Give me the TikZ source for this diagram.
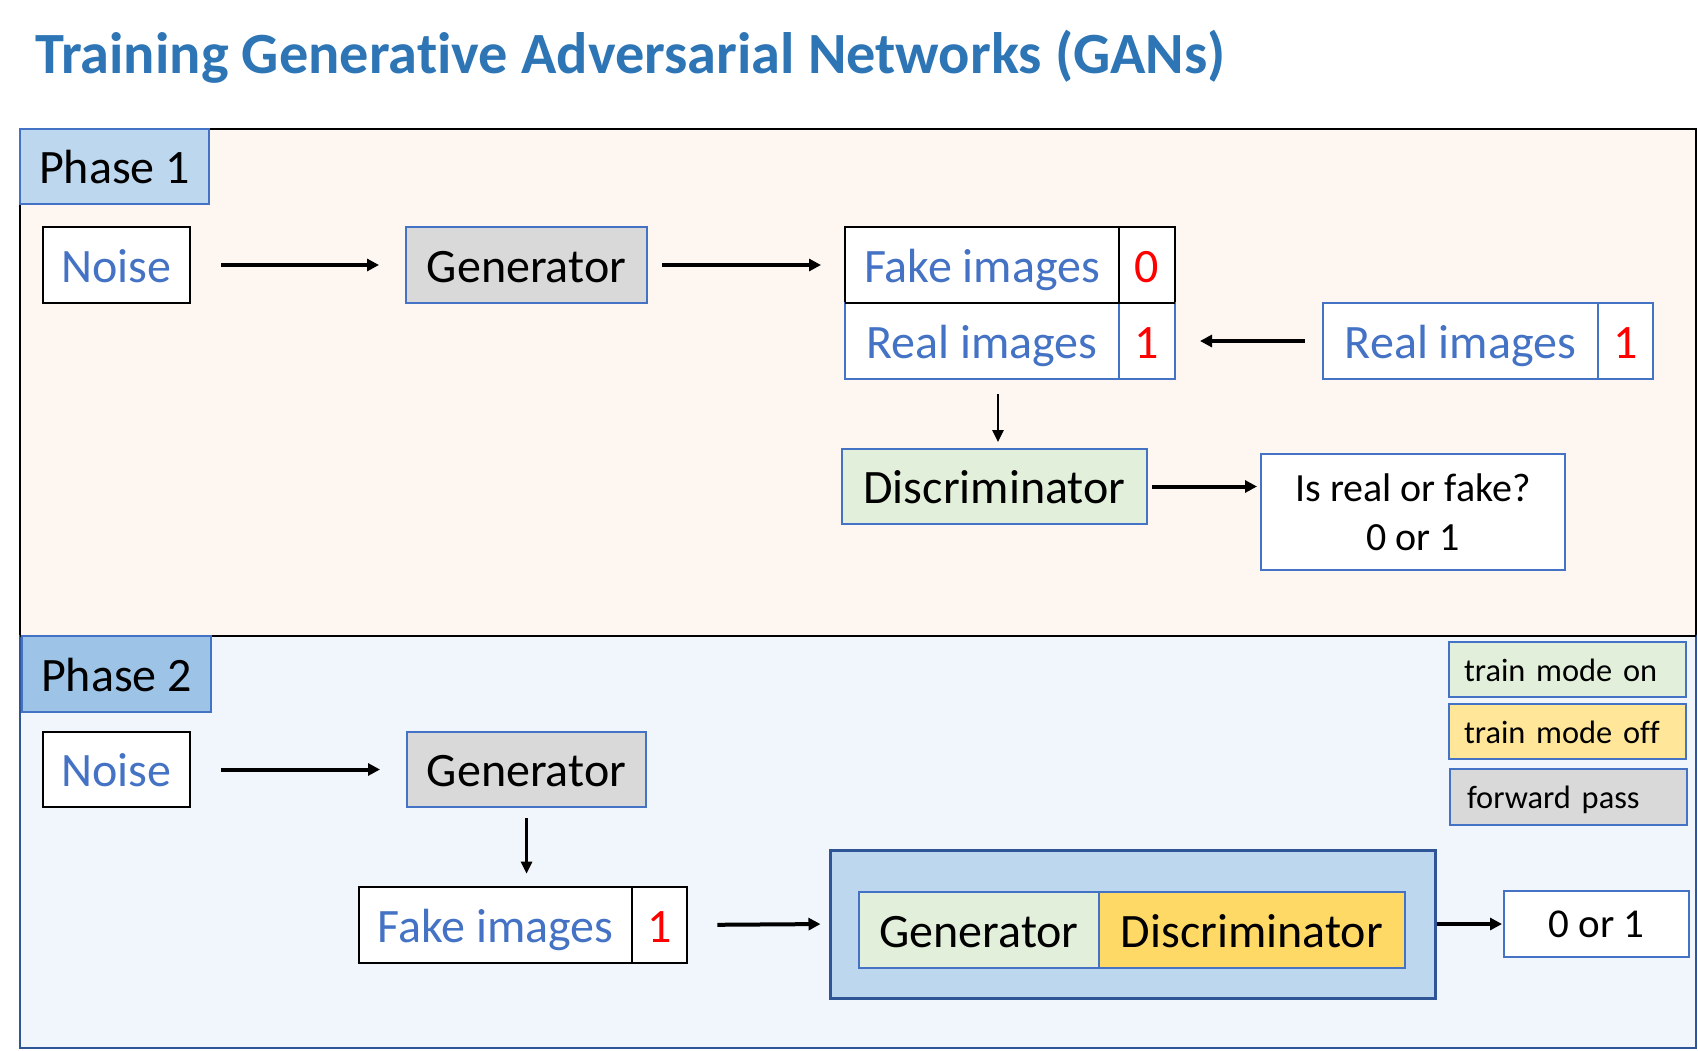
\documentclass[tikz,border=0pt]{standalone}
\usepackage{fontspec}
\setmainfont{Carlito}[Ligatures=NoCommon]
\usetikzlibrary{arrows.meta}
\definecolor{titleblue}{HTML}{2E75B6}
\definecolor{tblue}{HTML}{4472C4}
\definecolor{bdark}{HTML}{2F5597}
\definecolor{peach}{HTML}{FEF6F0}
\definecolor{pale}{HTML}{F1F5FC}
\definecolor{lblue}{HTML}{BDD7EE}
\definecolor{mblue}{HTML}{9DC3E6}
\definecolor{ggray}{HTML}{D9D9D9}
\definecolor{ggreen}{HTML}{E2EFDA}
\definecolor{gyellow}{HTML}{FFE699}
\definecolor{gorange}{HTML}{FFD966}
\definecolor{red}{HTML}{FF0000}
\tikzset{
  bx/.style={draw, rectangle, inner sep=0pt, line width=1pt, fill=white,
    font=\fontsize{24pt}{29pt}\selectfont, text height=17.2pt, text depth=0pt},
  blk/.style={bx, draw=black},
  blu/.style={bx, draw=tblue},
  leg/.style={draw=tblue, rectangle, line width=1pt, inner ysep=0pt, inner xsep=7.5pt,
    minimum height=27.5pt, text width=103.5pt, align=left,
    font=\fontsize{16.2pt}{20pt}\selectfont, text height=11.5pt, text depth=0pt},
  arr/.style={-{Triangle[length=6pt,width=6pt]}, line width=2pt},
  arrthin/.style={-{Triangle[length=6pt,width=5.5pt]}, line width=1.3pt},
}
\begin{document}
\begin{tikzpicture}[x=0.5pt,y=-0.5pt]
\useasboundingbox[fill=white] (0,0) rectangle (1698,1050);
% title
\node[anchor=base west, inner sep=0pt, text=titleblue,
  font=\fontsize{29.2pt}{35pt}\selectfont\bfseries] (title) at (35,73)
  {Training Generative Adversarial Networks (GANs)};
% phase backgrounds
\draw[fill=peach, draw=black, line width=1pt] (20,129) rectangle (1696,636);
\draw[fill=pale, draw=bdark, line width=1pt] (20,636) rectangle (1696,1048);
\draw[black, line width=1pt] (20,636) -- (1696,636);
% phase labels
\node[blu, fill=lblue, minimum width=94.5pt, minimum height=37.5pt] (ph1) at (114.5,166.5) {Phase 1};
\node[blu, fill=mblue, minimum width=94.5pt, minimum height=38pt] (ph2) at (116.5,674) {Phase 2};
% ---------- phase 1
\node[blk, minimum width=73.5pt, minimum height=38pt, text=tblue] (noise1) at (116.5,265) {Noise};
\node[blu, fill=ggray, minimum width=120.5pt, minimum height=38pt] (gen1) at (526.5,265) {Generator};
\node[blk, minimum width=137pt, minimum height=38pt, text=tblue] (fake1) at (982,265) {Fake images};
\node[blk, minimum width=28pt, minimum height=38pt, text=red] (fake1n) at (1147,265) {0};
\node[blu, minimum width=137pt, minimum height=38pt, text=tblue] (real1) at (982,341) {Real images};
\node[blu, minimum width=28pt, minimum height=38pt, text=red] (real1n) at (1147,341) {1};
\draw[black, line width=1pt] (845,303) -- (1175,303);
\node[blu, minimum width=137.5pt, minimum height=38pt, text=tblue] (real2) at (1460.5,341) {Real images};
\node[blu, minimum width=27.5pt, minimum height=38pt, text=red] (real2n) at (1625.5,341) {1};
\node[blu, fill=ggreen, minimum width=152.5pt, minimum height=37.5pt] (disc1) at (994.5,486.5) {Discriminator};
\node[draw=tblue, line width=1pt, fill=white, rectangle, inner sep=0pt, minimum width=152pt, minimum height=58pt,
  align=center, font=\fontsize{20pt}{24.5pt}\selectfont] (isreal) at (1413,512) {Is real or fake?\\0 or 1};
\draw[arr, shorten <=15pt, shorten >=13pt] (noise1.east) -- (gen1.west);
\draw[arr, shorten <=7pt, shorten >=11.5pt] (gen1.east) -- (fake1.west);
\draw[arr, shorten <=8.5pt, shorten >=12pt] (real2.west) -- (real1n.east);
\draw[arrthin, shorten <=7pt, shorten >=3pt] ([xshift=8pt]real1.south) -- ([xshift=8pt]real1.south |- disc1.north);
\draw[arr, shorten <=2pt, shorten >=1.5pt] (disc1.east) -- (disc1.east -| isreal.west);
% ---------- legend
\node[leg, fill=ggreen, minimum width=118.5pt] (legon) at (1567.5,669.5) {train mode on};
\node[leg, fill=gyellow, minimum width=118.5pt] (legoff) at (1567.5,731.5) {train mode off};
\node[leg, fill=ggray, minimum width=118.5pt, minimum height=28pt, inner xsep=8.5pt, text width=101.5pt] (legfwd) at (1568.5,797) {forward pass};
% ---------- phase 2
\node[blk, minimum width=73.5pt, minimum height=37.5pt, text=tblue] (noise2) at (116.5,769.5) {Noise};
\node[blu, fill=ggray, minimum width=119.5pt, minimum height=37.5pt] (gen2) at (526.5,769.5) {Generator};
\node[blk, minimum width=136.5pt, minimum height=38pt, text=tblue, line width=1.3pt] (fake2) at (495.5,925) {Fake images};
\node[blk, minimum width=27.5pt, minimum height=38pt, text=red, line width=1.3pt] (fake2n) at (659.5,925) {1};
\node[draw=bdark, line width=1.5pt, fill=lblue, rectangle, inner sep=0pt, minimum width=302.5pt, minimum height=74pt] (big) at (1132.5,924) {};
\node[blu, fill=ggreen, minimum width=120pt, minimum height=38pt] (igen) at (979,930) {Generator};
\node[blu, fill=gorange, minimum width=153pt, minimum height=38pt] (idisc) at (1252,930) {Discriminator};
\node[draw=tblue, line width=1pt, fill=white, rectangle, inner sep=0pt, minimum width=92.5pt, minimum height=33pt,
  font=\fontsize{20.5pt}{24pt}\selectfont, text height=13.5pt, text depth=0pt] (out) at (1596.5,924) {0 or 1};
\draw[arr, shorten <=15pt, shorten >=13pt] (noise2.east) -- (gen2.west);
\draw[arrthin, shorten <=5pt, shorten >=6pt] (gen2.south) -- (gen2.south |- fake2.north);
\draw[arr, shorten <=14.5pt, shorten >=4pt] (fake2n.east) -- (big.west);
\draw[arr, shorten >=0.5pt] (big.east) -- (out.west);
\end{tikzpicture}
\end{document}
